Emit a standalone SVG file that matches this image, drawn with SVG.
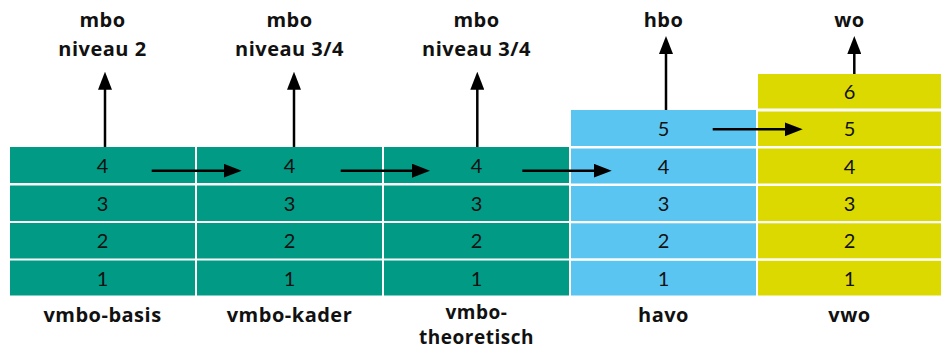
<svg xmlns="http://www.w3.org/2000/svg" width="941" height="350" viewBox="0 0 941 350">
<style>
  .teal{fill:#009A85}
  .blue{fill:#5BC5F2}
  .yel{fill:#DBD900}
  .num{font-family:"Lato","Liberation Sans",sans-serif;font-weight:400;font-size:20px;fill:#111;text-anchor:middle}
  .lbl{font-family:"Open Sans","Liberation Sans",sans-serif;font-weight:700;font-size:20px;letter-spacing:0.5px;fill:#111;text-anchor:middle}
  .arr{stroke:#000;stroke-width:2.5;fill:none;marker-end:url(#ah)}
</style>
<defs>
  <marker id="ah" markerUnits="userSpaceOnUse" viewBox="0 0 18 14" markerWidth="18" markerHeight="14" refX="8" refY="7" orient="auto">
    <path d="M0,0 L18,7 L0,14 Z" fill="#000"/>
  </marker>
</defs>
<rect width="941" height="350" fill="#fff"/>

<g id="vmbo-basis">
  <rect class="teal" x="10" y="147" width="185" height="36"/>
  <rect class="teal" x="10" y="185.5" width="185" height="35.5"/>
  <rect class="teal" x="10" y="223" width="185" height="35.5"/>
  <rect class="teal" x="10" y="260.5" width="185" height="35"/>
  <text class="num" x="102.5" y="173">4</text>
  <text class="num" x="102.5" y="210.5">3</text>
  <text class="num" x="102.5" y="248">2</text>
  <text class="num" x="102.5" y="285.5">1</text>
  <text class="lbl" x="102.5" y="322">vmbo-basis</text>
  <text class="lbl" x="102.5" y="27"><tspan x="102.5" y="27">mbo</tspan><tspan x="102.5" y="56">niveau 2</tspan></text>
</g>

<g id="vmbo-kader">
  <rect class="teal" x="197" y="147" width="185" height="36"/>
  <rect class="teal" x="197" y="185.5" width="185" height="35.5"/>
  <rect class="teal" x="197" y="223" width="185" height="35.5"/>
  <rect class="teal" x="197" y="260.5" width="185" height="35"/>
  <text class="num" x="289.5" y="173">4</text>
  <text class="num" x="289.5" y="210.5">3</text>
  <text class="num" x="289.5" y="248">2</text>
  <text class="num" x="289.5" y="285.5">1</text>
  <text class="lbl" x="289.5" y="322">vmbo-kader</text>
  <text class="lbl" x="289.5" y="27"><tspan x="289.5" y="27">mbo</tspan><tspan x="289.5" y="56">niveau 3/4</tspan></text>
</g>

<g id="vmbo-theoretisch">
  <rect class="teal" x="384" y="147" width="185" height="36"/>
  <rect class="teal" x="384" y="185.5" width="185" height="35.5"/>
  <rect class="teal" x="384" y="223" width="185" height="35.5"/>
  <rect class="teal" x="384" y="260.5" width="185" height="35"/>
  <text class="num" x="476.5" y="173">4</text>
  <text class="num" x="476.5" y="210.5">3</text>
  <text class="num" x="476.5" y="248">2</text>
  <text class="num" x="476.5" y="285.5">1</text>
  <text class="lbl" x="476.5" y="318.5" style="font-size:19px"><tspan x="476.5" y="318.5">vmbo-</tspan><tspan x="476.5" y="344.3">theoretisch</tspan></text>
  <text class="lbl" x="476.5" y="27"><tspan x="476.5" y="27">mbo</tspan><tspan x="476.5" y="56">niveau 3/4</tspan></text>
</g>

<g id="havo">
  <rect class="blue" x="571" y="110" width="185" height="36"/>
  <rect class="blue" x="571" y="148.5" width="185" height="35"/>
  <rect class="blue" x="571" y="186" width="185" height="35"/>
  <rect class="blue" x="571" y="223.3" width="185" height="35"/>
  <rect class="blue" x="571" y="260.8" width="185" height="34.7"/>
  <text class="num" x="663.5" y="136">5</text>
  <text class="num" x="663.5" y="173.5">4</text>
  <text class="num" x="663.5" y="210.5">3</text>
  <text class="num" x="663.5" y="248">2</text>
  <text class="num" x="663.5" y="285.5">1</text>
  <text class="lbl" x="663.5" y="322">havo</text>
  <text class="lbl" x="663.5" y="27">hbo</text>
</g>

<g id="vwo">
  <rect class="yel" x="758" y="74" width="183" height="34.5"/>
  <rect class="yel" x="758" y="111.5" width="183" height="34.5"/>
  <rect class="yel" x="758" y="148.5" width="183" height="35"/>
  <rect class="yel" x="758" y="186" width="183" height="35"/>
  <rect class="yel" x="758" y="223.3" width="183" height="35"/>
  <rect class="yel" x="758" y="260.8" width="183" height="34.7"/>
  <text class="num" x="849.5" y="99">6</text>
  <text class="num" x="849.5" y="136">5</text>
  <text class="num" x="849.5" y="173.5">4</text>
  <text class="num" x="849.5" y="210.5">3</text>
  <text class="num" x="849.5" y="248">2</text>
  <text class="num" x="849.5" y="285.5">1</text>
  <text class="lbl" x="849.5" y="322">vwo</text>
  <text class="lbl" x="849.5" y="27">wo</text>
</g>

<g id="connectors">
  <line class="arr" x1="105" y1="147" x2="105" y2="81.7"/>
  <line class="arr" x1="294" y1="147" x2="294" y2="81.7"/>
  <line class="arr" x1="477.3" y1="147" x2="477.3" y2="81.7"/>
  <line class="arr" x1="666" y1="110" x2="666" y2="46"/>
  <line class="arr" x1="854.3" y1="74" x2="854.3" y2="46"/>
  <line class="arr" x1="151.7" y1="170.7" x2="231.7" y2="170.7"/>
  <line class="arr" x1="340.7" y1="170.7" x2="420" y2="170.7"/>
  <line class="arr" x1="522.3" y1="170.7" x2="601.7" y2="170.7"/>
  <line class="arr" x1="712.7" y1="129.3" x2="792.7" y2="129.3"/>
</g>
</svg>
